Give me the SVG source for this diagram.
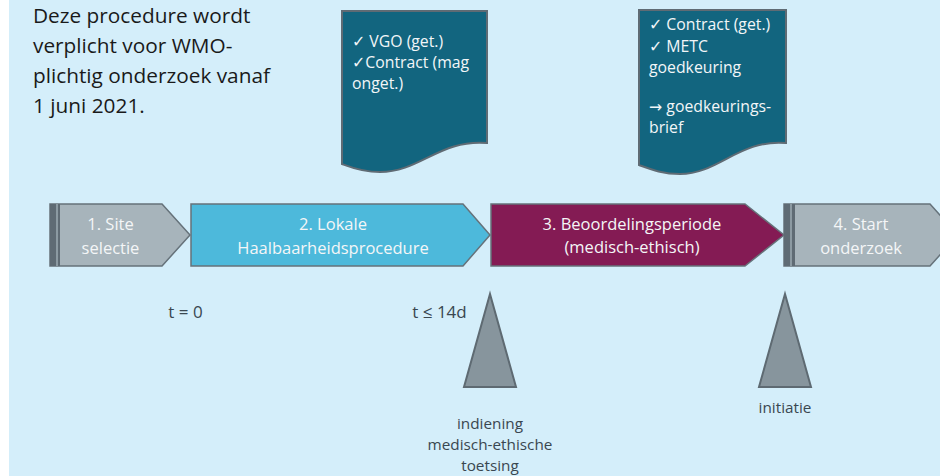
<svg xmlns="http://www.w3.org/2000/svg" width="940" height="476" viewBox="0 0 940 476">
<style>
.bg{fill:#D4EEFA}
.step{stroke:#66727A;stroke-width:1.5}
.grey{fill:#A7B4BB}
.bar{fill:#5F6B74}
.barl{fill:#8C9AA2}
.lbl{font-family:"Open Sans","DejaVu Sans",sans-serif;font-size:16.5px;fill:#F4F6F7;text-anchor:middle}
.doc{fill:#12657F;stroke:#5F6B74;stroke-width:2}
.dt{font-family:"Open Sans","DejaVu Sans",sans-serif;font-size:15.8px;fill:#F2F6F8}
.tri{fill:#87959D;stroke:#5E6A72;stroke-width:2;stroke-linejoin:miter}
.small{font-family:"Open Sans","DejaVu Sans",sans-serif;font-size:15.3px;fill:#3A4750;text-anchor:middle}
.tl{font-family:"Open Sans","DejaVu Sans",sans-serif;font-size:17px;fill:#3A4750;text-anchor:middle}
.intro{font-family:"Open Sans","DejaVu Sans",sans-serif;font-size:20.8px;fill:#1A1A1A}
</style>
<rect class="bg" x="9" y="0" width="931" height="476"/>

<g id="intro">
<text class="intro" x="33" y="23">Deze procedure wordt</text>
<text class="intro" x="33" y="53">verplicht voor WMO-</text>
<text class="intro" x="33" y="83">plichtig onderzoek vanaf</text>
<text class="intro" x="33" y="113">1 juni 2021.</text>
</g>

<g id="doc1">
<path class="doc" d="M342,11 H487 V143 C440,139 420,172 380,172 C362,172 350,167 342,164 Z"/>
<text class="dt" x="352" y="47">✓ VGO (get.)</text>
<text class="dt" x="352" y="68">✓Contract (mag</text>
<text class="dt" x="352" y="89">onget.)</text>
</g>

<g id="doc2">
<path class="doc" d="M639,10 H786 V143 C739,139 719,174 680,174 C662,174 650,169 639,165 Z"/>
<text class="dt" x="649" y="30">✓ Contract (get.)</text>
<text class="dt" x="649" y="52">✓ METC</text>
<text class="dt" x="649" y="73">goedkeuring</text>
<text class="dt" x="649" y="112">→ goedkeurings-</text>
<text class="dt" x="649" y="133">brief</text>
</g>

<g id="step1">
<path class="step grey" d="M50,204 H162 L190,235 L162,266 H50 Z"/>
<rect class="bar" x="50" y="204" width="6" height="62"/>
<rect class="barl" x="56" y="204" width="2" height="62"/>
<rect class="bar" x="58" y="204" width="2" height="62"/>
<text class="lbl" x="110.5" y="230">1. Site</text>
<text class="lbl" x="110.5" y="254">selectie</text>
</g>

<g id="step2">
<path class="step" fill="#4DB9DB" d="M191,204 H463 L490,235 L463,266 H191 Z"/>
<text class="lbl" x="333" y="230">2. Lokale</text>
<text class="lbl" x="333" y="254">Haalbaarheidsprocedure</text>
</g>

<g id="step3">
<path class="step" fill="#841B54" d="M491,204 H745 L784,235 L745,266 H491 Z"/>
<text class="lbl" x="632" y="230">3. Beoordelingsperiode</text>
<text class="lbl" x="632" y="253">(medisch-ethisch)</text>
</g>

<g id="step4">
<path class="step grey" d="M784,204 H930 L958,235 L930,266 H784 Z"/>
<rect class="bar" x="784" y="204" width="6" height="62"/>
<rect class="barl" x="790" y="204" width="2" height="62"/>
<rect class="bar" x="792" y="204" width="3" height="62"/>
<text class="lbl" x="861" y="230">4. Start</text>
<text class="lbl" x="861" y="254">onderzoek</text>
</g>

<g id="t0">
<text class="tl" x="185.5" y="318">t = 0</text>
</g>
<g id="t14">
<text class="tl" x="439.5" y="318">t ≤ 14d</text>
</g>

<g id="milestone1">
<path class="tri" d="M490,294 L516,387 H464 Z"/>
<text class="small" x="490" y="429">indiening</text>
<text class="small" x="490" y="450">medisch-ethische</text>
<text class="small" x="490" y="471">toetsing</text>
</g>

<g id="milestone2">
<path class="tri" d="M785,294 L811,387 H759 Z"/>
<text class="small" x="785" y="413">initiatie</text>
</g>

<g id="connectors"></g>
</svg>
